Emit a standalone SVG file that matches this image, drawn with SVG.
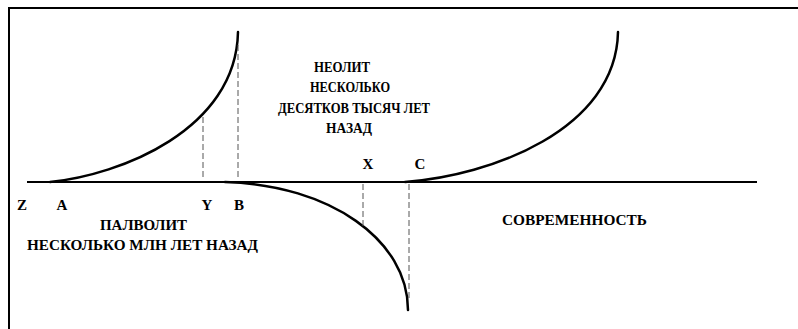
<svg xmlns="http://www.w3.org/2000/svg" width="798" height="329" viewBox="0 0 798 329">
<style>
  text { font-family: 'Liberation Serif', 'Times New Roman', serif; font-weight: 700; font-size: 15px; fill: #000; }
  .frame { fill: none; stroke: #000; stroke-width: 2; }
  .axis { fill: none; stroke: #000; stroke-width: 2; }
  .curve { fill: none; stroke: #000; stroke-width: 2.5; stroke-linecap: round; }
  .dash { fill: none; stroke: #555; stroke-width: 1; stroke-dasharray: 6 3; }
</style>
<rect width="798" height="329" fill="#fff"/>
<g id="frame">
  <path class="frame" d="M9,329 L9,8 L798,8"/>
</g>
<g id="connectors">
  <line class="axis" x1="27" y1="182" x2="757" y2="182"/>
  <path class="curve" d="M50,182 C120,175 236,130 238,32"/>
  <path class="curve" d="M225,182 C330,185 408,240 408,310"/>
  <path class="curve" d="M405,182 C490,176 616,130 618,32"/>
  <line class="dash" x1="203" y1="117" x2="203" y2="180"/>
  <line class="dash" x1="238" y1="45" x2="238" y2="180"/>
  <line class="dash" x1="363" y1="184" x2="363" y2="228"/>
  <line class="dash" x1="409" y1="184" x2="409" y2="300"/>
</g>
<g id="neolit">
  <text x="314" y="72" textLength="56" lengthAdjust="spacingAndGlyphs">НЕОЛИТ</text>
  <text x="310" y="92" textLength="80" lengthAdjust="spacingAndGlyphs">НЕСКОЛЬКО</text>
  <text x="278" y="113" textLength="152" lengthAdjust="spacingAndGlyphs">ДЕСЯТКОВ ТЫСЯЧ ЛЕТ</text>
  <text x="326" y="133" textLength="46" lengthAdjust="spacingAndGlyphs">НАЗАД</text>
</g>
<g id="paleolit">
  <text x="100" y="230" textLength="87" lengthAdjust="spacingAndGlyphs">ПАЛВОЛИТ</text>
  <text x="27" y="250" textLength="231" lengthAdjust="spacingAndGlyphs">НЕСКОЛЬКО МЛН ЛЕТ НАЗАД</text>
</g>
<g id="sovremennost">
  <text x="502" y="225" textLength="145" lengthAdjust="spacingAndGlyphs">СОВРЕМЕННОСТЬ</text>
</g>
<g id="point-labels" text-anchor="middle">
  <text x="22" y="210">Z</text>
  <text x="62" y="210">A</text>
  <text x="207" y="210">Y</text>
  <text x="239" y="210">B</text>
  <text x="368" y="169">X</text>
  <text x="420" y="169">C</text>
</g>
</svg>
